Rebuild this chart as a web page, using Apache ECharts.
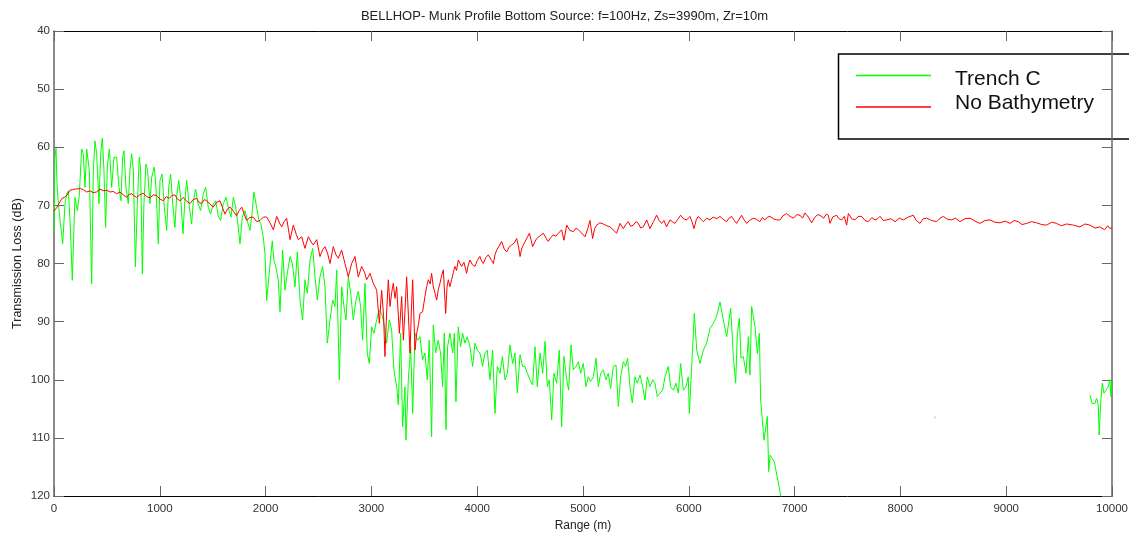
<!DOCTYPE html>
<html>
<head>
<meta charset="utf-8">
<script src="https://cdn.jsdelivr.net/npm/echarts@6/dist/echarts.min.js"></script>
<style>
  html, body { margin: 0; padding: 0; background: #fff; }
  #chart { width: 1129px; height: 537px; }
</style>
</head>
<body>
<div id="chart"></div>
<script>
// Transmission loss vs range, BELLHOP run over the Munk profile.
const chartTitle = 'BELLHOP- Munk Profile Bottom Source: f=100Hz, Zs=3990m, Zr=10m';
const seriesNames = ['Trench C', 'No Bathymetry'];
const xTicks = [0, 1000, 2000, 3000, 4000, 5000, 6000, 7000, 8000, 9000, 10000];
const yTicks = [40, 50, 60, 70, 80, 90, 100, 110, 120];

// No Bathymetry: range (m) and transmission loss (dB)
const noBathyRange = [0,25,50,75,100,125,150,175,200,250,277,309,340,370,403,435,470,500,529,560,592,624,655,687,710,734,760,781,810,844,875,907,940,970,1000,1033,1060,1090,1115,1143,1165,1191,1222,1255,1285,1315,1348,1370,1396,1420,1443,1475,1506,1535,1569,1595,1616,1640,1663,1695,1726,1750,1774,1800,1821,1850,1884,1915,1947,1980,2010,2025,2042,2073,2105,2136,2152,2175,2199,2231,2262,2290,2309,2341,2372,2404,2430,2451,2483,2514,2540,2561,2585,2609,2640,2665,2687,2719,2750,2782,2813,2845,2876,2908,2935,2955,2987,3018,3050,3075,3097,3115,3128,3145,3160,3176,3192,3207,3223,3239,3264,3286,3302,3318,3333,3350,3365,3378,3390,3412,3428,3445,3459,3484,3506,3522,3538,3555,3569,3585,3600,3617,3632,3648,3665,3680,3702,3715,3727,3742,3758,3775,3790,3805,3821,3837,3853,3875,3900,3915,3932,3955,3979,4000,4026,4042,4058,4080,4105,4121,4137,4153,4168,4184,4207,4231,4255,4279,4300,4326,4350,4373,4390,4405,4420,4436,4465,4493,4510,4524,4545,4562,4595,4625,4650,4672,4695,4720,4745,4767,4798,4820,4846,4875,4909,4935,4956,4990,5019,5045,5066,5091,5110,5129,5160,5192,5225,5255,5290,5318,5350,5381,5405,5428,5450,5476,5500,5523,5545,5570,5602,5633,5665,5696,5720,5743,5765,5790,5822,5845,5869,5895,5923,5950,5980,6011,6030,6049,6070,6090,6115,6137,6170,6200,6230,6265,6295,6325,6358,6380,6405,6430,6452,6475,6499,6520,6546,6575,6610,6640,6672,6695,6720,6745,6767,6800,6830,6862,6890,6924,6957,6990,7020,7051,7075,7098,7130,7161,7190,7215,7240,7275,7300,7319,7335,7360,7397,7420,7445,7470,7492,7508,7540,7571,7600,7634,7665,7697,7730,7760,7785,7807,7840,7870,7910,7949,7990,8028,8075,8122,8150,8185,8215,8248,8295,8343,8375,8406,8445,8484,8520,8563,8610,8658,8705,8752,8800,8847,8895,8941,8990,9036,9075,9114,9150,9193,9240,9287,9335,9382,9430,9476,9520,9571,9635,9697,9745,9791,9840,9886,9930,9960,9980,10000];
const noBathyTL = [71.0,70.4,69.6,68.8,68.6,68.2,67.4,67.3,67.2,67.1,67.3,67.7,67.5,67.8,67.7,67.2,67.5,67.4,67.7,67.6,68.0,67.7,68.2,68.6,68.1,68.0,68.4,68.6,68.2,67.9,68.5,68.7,68.2,68.3,68.9,69.2,68.5,68.8,68.3,68.2,68.9,69.2,68.6,69.3,69.7,69.0,68.8,69.5,69.7,69.0,69.2,69.8,70.3,69.5,69.2,70.5,71.5,70.6,70.3,71.0,71.8,70.9,70.3,71.6,72.6,72.1,72.0,72.8,72.6,72.0,72.0,72.3,73.0,74.2,71.9,73.2,73.7,72.8,72.2,75.9,73.4,75.0,75.9,75.4,77.4,75.4,76.3,76.8,75.9,78.8,77.6,77.1,78.2,80.0,77.1,78.5,79.1,77.7,80.0,82.3,80.0,78.8,82.3,80.5,81.5,82.8,81.7,83.4,84.6,90.3,84.6,89.0,96.0,88.0,82.8,87.4,85.0,83.4,86.0,84.0,92.0,85.7,93.2,88.0,82.3,89.0,95.4,88.0,82.8,94.9,92.0,90.5,88.6,88.3,85.7,84.0,82.8,83.5,81.7,84.0,85.0,86.3,84.5,83.4,82.0,81.1,88.6,84.0,82.8,84.0,82.8,81.5,80.5,81.2,79.4,80.0,80.5,79.8,81.7,80.3,79.4,80.2,80.5,79.5,78.8,79.6,80.0,79.0,78.5,78.2,79.5,80.0,78.5,77.7,77.0,76.2,77.5,78.0,77.2,76.8,76.5,75.7,77.0,78.8,77.5,76.8,75.8,74.8,76.0,77.1,76.3,75.7,75.2,74.8,75.6,76.2,75.5,75.1,75.3,74.8,74.2,76.0,73.4,74.3,74.5,73.9,74.2,74.8,75.4,74.0,72.6,75.7,74.0,73.4,73.0,73.2,73.5,73.7,74.3,74.8,73.1,74.0,73.3,72.8,73.6,73.4,72.8,73.1,73.9,73.7,72.5,74.0,72.8,71.7,72.6,73.1,72.6,73.7,72.5,72.8,73.1,72.4,71.7,72.3,72.5,71.9,72.8,74.0,72.5,71.9,72.4,72.8,72.2,72.5,72.0,72.3,71.9,72.4,72.8,72.2,71.9,72.6,73.1,72.4,71.7,72.4,73.1,72.6,72.2,72.4,72.8,72.1,72.5,72.0,71.9,72.3,72.5,72.5,71.8,71.4,71.9,72.2,71.6,71.7,72.2,71.3,72.0,73.0,72.1,71.6,71.7,72.2,71.5,71.7,73.1,72.0,71.7,72.3,72.5,71.9,73.4,71.4,72.3,72.5,71.9,71.9,72.6,72.8,72.1,72.5,72.3,71.9,72.6,72.5,72.3,72.8,72.2,72.5,72.0,71.7,72.6,73.1,72.3,72.2,72.6,72.8,72.2,71.9,72.4,72.5,72.2,72.8,72.3,72.2,72.7,73.1,72.6,72.5,72.9,73.0,72.7,73.1,72.6,72.8,73.3,73.1,72.8,73.0,73.3,73.4,72.9,73.1,73.5,73.2,73.4,73.7,73.2,73.4,73.9,73.7,74.2,73.5,74.0,73.8];

// Trench C: range (m) and transmission loss (dB); null where the loss runs off the scale
const trenchRange = [0,8,19,28,41,60,82,104,120,136,155,173,198,220,239,261,277,293,309,334,356,372,387,403,425,441,457,472,488,504,523,545,567,580,592,614,633,649,661,680,702,718,734,750,769,788,806,819,835,850,869,885,907,923,948,964,986,1002,1021,1043,1065,1084,1103,1122,1143,1159,1178,1197,1219,1235,1254,1276,1301,1317,1339,1361,1386,1411,1433,1458,1480,1506,1528,1553,1575,1600,1626,1647,1673,1695,1717,1742,1758,1780,1805,1827,1852,1868,1890,1915,1937,1956,1978,1994,2010,2025,2048,2063,2079,2098,2120,2136,2161,2183,2205,2231,2253,2278,2300,2325,2350,2372,2394,2420,2445,2467,2489,2514,2539,2561,2583,2609,2634,2656,2672,2697,2719,2741,2760,2782,2804,2829,2854,2876,2898,2917,2939,2961,2980,3002,3024,3050,3072,3097,3119,3144,3169,3191,3213,3239,3254,3276,3295,3317,3327,3349,3371,3390,3412,3437,3459,3484,3506,3528,3547,3569,3585,3607,3632,3654,3673,3689,3705,3720,3743,3768,3784,3799,3821,3843,3862,3884,3906,3932,3957,3979,4001,4026,4051,4073,4095,4121,4146,4168,4190,4216,4238,4263,4285,4310,4335,4357,4379,4405,4430,4452,4474,4499,4524,4546,4568,4594,4619,4641,4663,4682,4704,4726,4751,4776,4798,4820,4846,4864,4887,4909,4934,4956,4978,5003,5028,5050,5072,5098,5123,5145,5167,5192,5217,5239,5261,5287,5312,5334,5356,5381,5403,5422,5444,5466,5491,5513,5539,5564,5586,5608,5633,5658,5680,5702,5728,5753,5775,5806,5828,5854,5879,5901,5923,5948,5973,5995,6005,6027,6052,6075,6106,6138,6169,6200,6232,6263,6295,6326,6358,6396,6421,6443,6459,6478,6493,6515,6541,6563,6578,6594,6626,6648,6667,6679,6711,6742,6755,6768,6808,6868,6900,6950,9791,9813,9838,9854,9870,9879,9892,9908,9924,9942,9964,9980,9990,10000];
const trenchTL = [74.5,62.0,60.2,66.0,69.7,73.0,76.6,69.7,68.0,67.5,74.0,82.9,68.6,70.9,68.3,60.3,61.1,66.9,60.3,64.0,83.5,64.0,58.9,61.1,69.7,61.1,58.4,64.0,73.8,63.4,60.3,66.9,61.7,61.5,61.7,66.9,69.2,61.7,60.6,66.9,69.7,64.0,61.1,64.0,80.6,69.7,61.7,64.0,81.8,69.7,62.9,64.0,69.7,65.2,63.4,66.9,76.6,65.7,64.6,70.3,74.3,66.9,64.6,69.7,73.8,68.6,65.7,68.6,74.9,69.7,65.7,69.7,73.2,69.2,67.2,69.7,70.9,68.0,66.9,70.3,71.5,69.7,69.2,71.8,72.6,69.7,68.6,70.3,72.0,68.6,70.3,73.8,76.6,72.0,70.9,72.6,74.3,72.0,67.7,70.3,72.6,73.2,75.5,78.3,86.4,83.5,78.9,76.1,79.5,80.6,82.9,88.3,77.7,84.6,81.7,78.8,80.0,84.0,78.0,86.3,89.7,82.8,85.1,79.4,77.4,82.3,86.3,82.3,80.5,84.0,93.7,89.7,86.3,87.4,81.1,100.0,84.0,87.4,89.7,82.3,85.1,89.7,86.3,84.8,87.4,93.2,83.4,95.4,97.2,90.9,92.0,89.7,88.0,88.6,90.3,93.7,89.7,91.4,98.3,101.2,104.3,92.0,108.1,101.2,110.4,100.0,94.3,105.8,92.0,93.2,92.6,96.6,95.4,100.0,93.2,109.8,90.6,95.4,93.2,95.4,101.2,92.0,108.6,94.3,92.0,95.4,92.0,103.8,90.9,94.3,92.0,93.7,92.6,94.3,97.7,93.7,94.9,95.4,97.7,95.4,94.9,100.0,94.9,105.8,97.7,98.9,96.0,100.0,98.9,94.0,97.2,95.4,102.3,95.7,97.7,97.7,98.9,100.0,100.9,94.3,101.2,95.4,98.9,93.4,101.2,100.0,106.9,98.9,100.6,94.9,108.1,96.0,100.0,101.8,94.0,98.3,97.7,96.9,98.9,97.2,101.2,99.5,100.3,99.5,96.3,101.2,98.9,98.3,100.0,98.9,101.5,97.7,97.5,104.6,99.5,96.9,97.7,96.3,101.2,104.0,99.5,100.6,99.2,101.2,103.5,99.5,101.2,100.0,100.6,102.9,102.3,101.8,99.5,97.7,101.2,101.8,100.6,102.3,97.2,101.8,101.2,99.5,105.8,97.8,88.6,94.9,97.2,94.9,93.7,91.2,90.3,89.1,86.6,89.7,92.6,87.7,96.0,100.6,92.0,89.4,96.3,96.0,98.9,92.6,99.2,87.4,90.9,95.5,92.0,103.5,110.4,106.3,115.8,113.0,114.1,119.8,122.5,null,102.6,104.1,104.1,103.2,104.3,109.5,104.3,100.6,102.3,101.8,101.2,100.0,102.9,100.2];

// A lone Trench C sample between the two runs
const trenchStray = [[8326, 106.5]];

const GREEN = '#00ff00';
const RED = '#ff0000';
const FONT = 'Liberation Sans, Arial, sans-serif';

const pairs = (xs, ys) => xs.map((x, i) => [x, ys[i]]);
const plain = v => String(v);

const chart = echarts.init(document.getElementById('chart'), null, { renderer: 'canvas' });

const tickStyle = { show: true, inside: true, length: 10, lineStyle: { color: '#666', width: 1 } };

chart.setOption({
  animation: false,
  backgroundColor: '#ffffff',
  title: {
    text: chartTitle,
    left: 'center',
    top: 5,
    textStyle: { fontFamily: FONT, fontSize: 13, fontWeight: 'normal', color: '#222' }
  },
  grid: { left: 54, right: 17, top: 31, bottom: 41, containLabel: false, outerBoundsMode: 'none' },
  xAxis: [{
    type: 'value', min: xTicks[0], max: xTicks[xTicks.length - 1], interval: xTicks[1] - xTicks[0],
    position: 'bottom',
    name: 'Range (m)', nameLocation: 'middle', nameGap: 23,
    nameTextStyle: { fontFamily: FONT, fontSize: 12, color: '#222' },
    axisLine: { show: true, onZero: false, lineStyle: { color: '#000', width: 1 } },
    axisTick: tickStyle,
    axisLabel: { margin: 7, fontFamily: FONT, fontSize: 11.5, color: '#333', formatter: plain },
    splitLine: { show: false }
  }, {
    type: 'value', min: xTicks[0], max: xTicks[xTicks.length - 1], interval: xTicks[1] - xTicks[0],
    position: 'top',
    axisLine: { show: true, onZero: false, lineStyle: { color: '#000', width: 1 } },
    axisTick: tickStyle,
    axisLabel: { show: false },
    splitLine: { show: false }
  }],
  yAxis: [{
    type: 'value', min: yTicks[0], max: yTicks[yTicks.length - 1], interval: yTicks[1] - yTicks[0],
    inverse: true, position: 'left',
    name: 'Transmission Loss (dB)', nameLocation: 'middle', nameGap: 30, nameMoveOverlap: false,
    nameTextStyle: { fontFamily: FONT, fontSize: 12.5, color: '#222' },
    axisLine: { show: true, onZero: false, lineStyle: { color: '#666', width: 1.5 } },
    axisTick: tickStyle,
    axisLabel: { margin: 4, fontFamily: FONT, fontSize: 11.5, color: '#333', formatter: plain },
    splitLine: { show: false }
  }, {
    type: 'value', min: yTicks[0], max: yTicks[yTicks.length - 1], interval: yTicks[1] - yTicks[0],
    inverse: true, position: 'right',
    axisLine: { show: true, onZero: false, lineStyle: { color: '#666', width: 1.5 } },
    axisTick: tickStyle,
    axisLabel: { show: false },
    splitLine: { show: false }
  }],
  series: [{
    name: seriesNames[0],
    type: 'line',
    data: pairs(trenchRange, trenchTL),
    showSymbol: false,
    connectNulls: false,
    clip: true,
    lineStyle: { color: GREEN, width: 1 },
    itemStyle: { color: GREEN },
    z: 2
  }, {
    name: seriesNames[0],
    type: 'scatter',
    data: trenchStray,
    symbol: 'rect',
    symbolSize: 2,
    itemStyle: { color: '#7fff7f' },
    z: 2
  }, {
    name: seriesNames[1],
    type: 'line',
    data: pairs(noBathyRange, noBathyTL),
    showSymbol: false,
    clip: true,
    lineStyle: { color: RED, width: 1 },
    itemStyle: { color: RED },
    z: 3
  }],
  graphic: [{
    type: 'group',
    z: 100,
    children: [
      { type: 'rect', shape: { x: 838.5, y: 54, width: 330, height: 85 },
        style: { fill: '#fff', stroke: '#000', lineWidth: 1.5 } },
      { type: 'line', shape: { x1: 856, y1: 75.5, x2: 931, y2: 75.5 },
        style: { stroke: GREEN, lineWidth: 1.5 } },
      { type: 'line', shape: { x1: 856, y1: 107, x2: 931, y2: 107 },
        style: { stroke: RED, lineWidth: 1.5 } },
      { type: 'text', x: 955, y: 79,
        style: { text: seriesNames[0], fontFamily: FONT, fontSize: 21, fill: '#111', verticalAlign: 'middle' } },
      { type: 'text', x: 955, y: 103,
        style: { text: seriesNames[1], fontFamily: FONT, fontSize: 21, fill: '#111', verticalAlign: 'middle' } }
    ]
  }]
});
</script>
</body>
</html>
